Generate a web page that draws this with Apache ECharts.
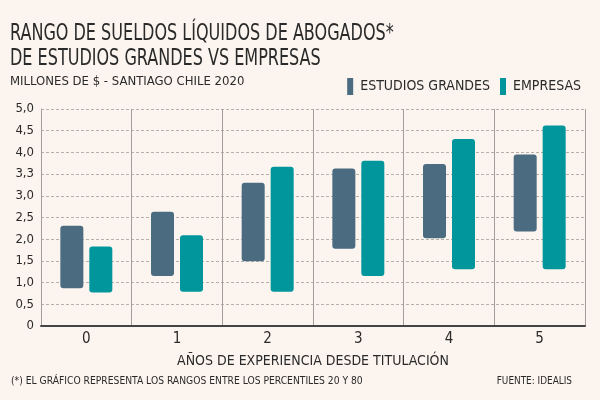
<!DOCTYPE html>
<html>
<head>
<meta charset="utf-8">
<script src="https://cdn.jsdelivr.net/npm/echarts@6/dist/echarts.min.js"></script>
<style>
  html, body { margin: 0; padding: 0; background: #fcf5ef; }
  #chart { width: 600px; height: 400px; }
</style>
</head>
<body>
<div id="chart"></div>
<script>
// años de experiencia
var anios = ['0', '1', '2', '3', '4', '5'];
// rangos percentil 20 - 80 (millones de $)
var estudiosMin = [0.87, 1.15, 1.49, 1.78, 2.02, 2.18];
var estudiosMax = [2.31, 2.63, 3.30, 3.63, 3.73, 3.95];
var empresasMin = [0.77, 0.79, 0.79, 1.15, 1.31, 1.31];
var empresasMax = [1.83, 2.09, 3.67, 3.81, 4.31, 4.62];
// etiquetas del eje tal como salen en el gráfico
var yLabels = ['0', '0,5', '1,0', '1,5', '2,0', '2,5', '3,0', '3,3', '4,0', '4,5', '5,0'];

var font = "'DejaVu Sans Condensed', 'Liberation Sans Narrow', sans-serif";
var texto = '#2a2a2a';
var gris = '#4b6b80';
var verde = '#00969b';

function rango(lo, hi) {
  var r = [];
  for (var i = 0; i < lo.length; i++) r.push(+(hi[i] - lo[i]).toFixed(2));
  return r;
}

// texto angosto (la fuente original es muy condensada)
function txt(str, x, y, size, sx, align) {
  return {
    type: 'text', x: x, y: y, scaleX: sx, silent: true,
    style: { text: str, fontFamily: font, fontSize: size, fill: texto,
             align: align || 'left', verticalAlign: 'top' }
  };
}

var myChart = echarts.init(document.getElementById('chart'));

option = {
  backgroundColor: '#fcf5ef',
  animation: false,
  graphic: [
    txt('RANGO DE SUELDOS LÍQUIDOS DE ABOGADOS*', 10, 23, 23, 0.775),
    txt('DE ESTUDIOS GRANDES VS EMPRESAS', 10, 48, 23, 0.775),
    txt('MILLONES DE $ - SANTIAGO CHILE 2020', 10, 75, 13, 1),
    txt('(*) EL GRÁFICO REPRESENTA LOS RANGOS ENTRE LOS PERCENTILES 20 Y 80', 11, 376, 11, 0.93),
    txt('FUENTE: IDEALIS', 572, 376, 11, 0.9, 'right')
  ],
  legend: {
    data: ['ESTUDIOS GRANDES', 'EMPRESAS'],
    right: 14, top: 73,
    itemWidth: 6, itemHeight: 17, itemGap: 10,
    icon: 'rect',
    textStyle: { fontFamily: font, fontSize: 14, color: texto, padding: [0, 0, 0, 2] }
  },
  grid: { left: 41, right: 15, top: 109, bottom: 74 },
  xAxis: {
    type: 'category',
    data: anios,
    name: 'AÑOS DE EXPERIENCIA DESDE TITULACIÓN',
    nameLocation: 'middle',
    nameGap: 28,
    nameTextStyle: { fontFamily: font, fontSize: 14, color: texto },
    axisLine: { lineStyle: { color: '#444', width: 2 } },
    axisTick: { show: false },
    axisLabel: { fontFamily: font, fontSize: 15, color: texto, margin: 6 },
    splitLine: { show: true, lineStyle: { color: '#a39e99', width: 1 } }
  },
  yAxis: {
    type: 'value',
    min: 0, max: 5, interval: 0.5,
    axisLine: { show: true, lineStyle: { color: '#a39e99', width: 1 } },
    axisTick: { show: false },
    axisLabel: {
      fontFamily: font, fontSize: 13, color: texto, margin: 7,
      formatter: function (v) { return yLabels[Math.round(v * 2)]; }
    },
    splitLine: { lineStyle: { color: '#b5b0ab', type: [3, 2], width: 1 } }
  },
  series: [{
    name: 'base1', type: 'bar', stack: 'g', data: estudiosMin,
    barWidth: 23, barGap: '26%',
    itemStyle: { color: 'transparent' }, silent: true
  }, {
    name: 'ESTUDIOS GRANDES', type: 'bar', stack: 'g', data: rango(estudiosMin, estudiosMax),
    barWidth: 23,
    itemStyle: { color: gris, borderRadius: 3 }
  }, {
    name: 'base2', type: 'bar', stack: 'e', data: empresasMin,
    barWidth: 23,
    itemStyle: { color: 'transparent' }, silent: true
  }, {
    name: 'EMPRESAS', type: 'bar', stack: 'e', data: rango(empresasMin, empresasMax),
    barWidth: 23,
    itemStyle: { color: verde, borderRadius: 3 }
  }]
};

myChart.setOption(option);
</script>
</body>
</html>
